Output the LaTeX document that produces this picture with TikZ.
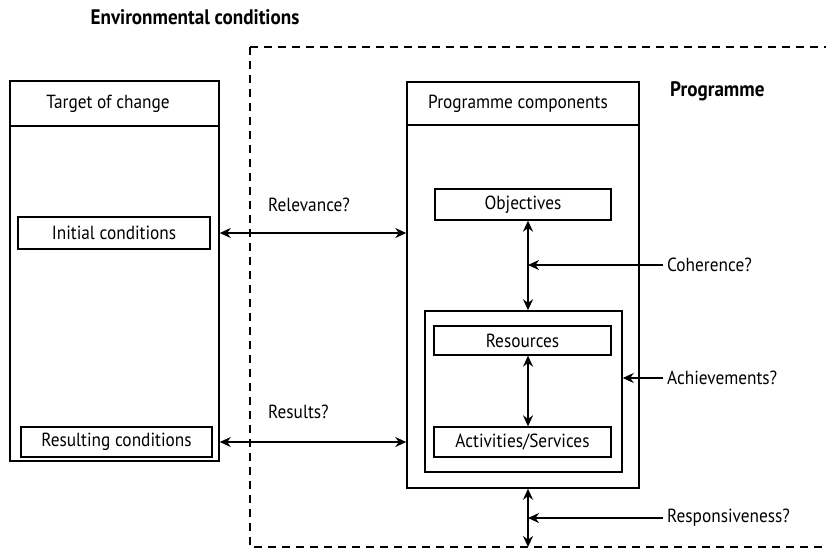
\documentclass[tikz,border=0pt]{standalone}
\usepackage{fontspec}
\setmainfont{PT Sans}[FakeStretch=0.91]
\usetikzlibrary{arrows.meta}
\begin{document}
\begin{tikzpicture}[x=1pt,y=-1pt,
  font=\fontsize{19}{21}\selectfont,
  box/.style={draw,line width=1.5pt,inner sep=0pt},
  smallbox/.style={draw,line width=1.3pt,inner sep=0pt},
  link/.style={line width=1.7pt,{Stealth[length=11pt,width=10pt]}-{Stealth[length=11pt,width=10pt]}},
  probe/.style={line width=1.7pt,-{Stealth[length=11pt,width=10pt]}},
  question/.style={anchor=west,inner sep=4pt},
  heading/.style={inner sep=0pt,font=\fontsize{21}{23}\selectfont\bfseries}]
\useasboundingbox (0,0) rectangle (826,550);
\begin{scope}
\clip (0,0) rectangle (826,550);
% environment frame, open to the right
\draw[line width=2.4pt,dash pattern=on 8pt off 6pt] (250,47) -- (840,47);
\draw[line width=2.4pt,dash pattern=on 8pt off 6pt] (250,47) -- (250,547) -- (840,547);
\end{scope}
\coordinate (frameb) at (250,547);
\node[heading] (env) at (195,17) {Environmental conditions};
\node[heading,anchor=west] (prog) at (670,91) {Programme};

% target of change
\node[box,minimum width=209pt,minimum height=380pt] (target) at (114.5,271) {};
\node[inner sep=0pt] (targethead) at (108,103.5) {Target of change};
\draw[line width=1.3pt] (10,126) coordinate (tsepl) -- (219,126) coordinate (tsepr);
\node[smallbox,minimum width=192pt,minimum height=32pt] (initial) at (114,233) {Initial conditions};
\node[smallbox,minimum width=191pt,minimum height=30pt] (resulting) at (116.5,442) {Resulting conditions};

% programme components
\node[box,minimum width=232pt,minimum height=406pt] (programme) at (523,285) {};
\node[inner sep=0pt] (proghead) at (518,103.5) {Programme components};
\draw[line width=2.4pt] (407,125) coordinate (psepl) -- (640,125) coordinate (psepr);
\node[smallbox,minimum width=176pt,minimum height=31pt] (objectives) at (523,204.5) {Objectives};
\node[box,minimum width=197pt,minimum height=161pt] (inner) at (523.5,391.5) {};
\node[smallbox,minimum width=177pt,minimum height=29pt] (resources) at (522.5,340.5) {Resources};
\node[smallbox,minimum width=177pt,minimum height=30pt] (activities) at (522.5,442) {Activities/Services};

\coordinate (axis) at (528,0);

% links between target and programme
\draw[link] (initial -| target.east) -- (initial -| programme.west);
\node[question] (relevance) at (264,205) {Relevance?};
\draw[link] (resulting -| target.east) -- (resulting -| programme.west);
\node[question] (results) at (264,412) {Results?};

% links inside the programme
\draw[link] (objectives.south -| axis) -- (inner.north -| axis);
\draw[link] (resources.south -| axis) -- (activities.north -| axis);
\draw[link] (programme.south -| axis) -- (frameb -| axis);

% evaluation questions
\node[question] (coherence) at (663,265) {Coherence?};
\draw[probe] (coherence.west) -- (coherence.west -| axis);
\node[question] (achievements) at (663,378) {Achievements?};
\draw[probe] (achievements.west) -- (achievements.west -| inner.east);
\node[question] (responsiveness) at (663,518) {Responsiveness?};
\draw[probe] (responsiveness.west) -- (responsiveness.west -| axis);
\end{tikzpicture}
\end{document}
